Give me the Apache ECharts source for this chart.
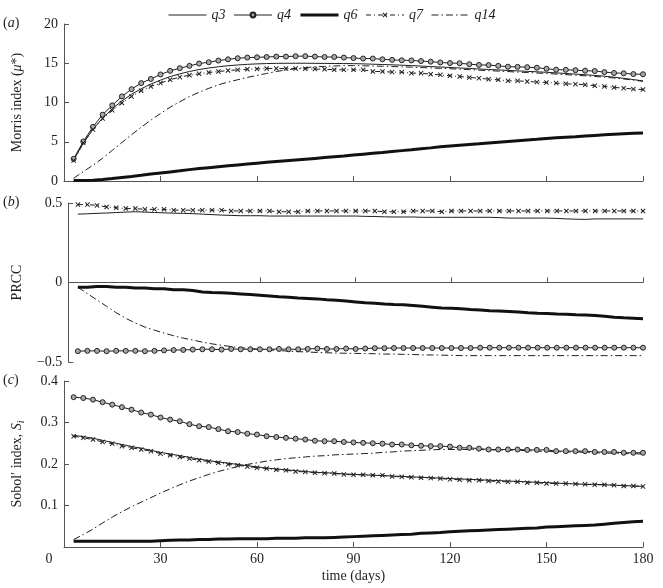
<!DOCTYPE html>
<html>
<head>
<meta charset="utf-8">
<script src="https://cdn.jsdelivr.net/npm/echarts@6/dist/echarts.min.js"></script>
<style>html,body{margin:0;padding:0;background:#fff}#c{width:663px;height:588px}</style>
</head>
<body>
<div id="c"></div>
<script>
// ---- data ----
const days = [3,6,9,12,15,18,21,24,27,30,33,36,39,42,45,48,51,54,57,60,63,66,69,72,75,78,81,84,87,90,
  93,96,99,102,105,108,111,114,117,120,123,126,129,132,135,138,141,144,147,150,153,156,159,162,165,168,171,174,177,180];
const xTicks = [0,30,60,90,120,150,180];
const seriesNames = ['q3','q4','q6','q7','q14'];

// (a) Morris index
const morrisQ3 = [2.7,4.8,6.6,8.0,9.2,10.2,11.05,11.75,12.35,12.85,13.3,13.65,13.95,14.2,14.4,14.55,14.68,14.78,14.86,14.92,
  14.96,14.99,15.0,15.0,15.0,14.99,14.98,14.97,14.96,14.95,14.92,14.88,14.84,14.8,14.75,14.7,14.64,14.58,14.52,14.46,
  14.4,14.34,14.27,14.21,14.15,14.09,14.03,13.97,13.91,13.85,13.77,13.7,13.62,13.54,13.45,13.35,13.22,13.08,12.92,12.75];
const morrisQ4 = [2.83,5.03,6.9,8.45,9.64,10.78,11.7,12.47,13.0,13.57,14.03,14.37,14.67,14.96,15.13,15.34,15.5,15.64,15.72,15.76,
  15.8,15.85,15.85,15.9,15.9,15.85,15.8,15.8,15.72,15.66,15.6,15.6,15.5,15.43,15.38,15.36,15.28,15.2,15.1,15.02,
  15.0,14.88,14.79,14.77,14.67,14.56,14.54,14.5,14.43,14.3,14.18,14.16,14.12,14.05,14.01,13.87,13.76,13.72,13.62,13.6];
const morrisQ6 = [0.05,0.05,0.1,0.2,0.32,0.45,0.58,0.72,0.88,1.02,1.16,1.3,1.45,1.58,1.7,1.82,1.94,2.05,2.16,2.27,
  2.38,2.48,2.58,2.68,2.78,2.88,2.98,3.08,3.18,3.3,3.42,3.53,3.64,3.76,3.87,3.98,4.1,4.22,4.35,4.46,
  4.56,4.65,4.74,4.84,4.94,5.04,5.14,5.23,5.32,5.42,5.5,5.58,5.64,5.72,5.8,5.88,5.95,6.02,6.07,6.1];
const morrisQ7 = [2.6,4.86,6.55,7.95,9.0,9.93,10.78,11.5,12.05,12.47,12.9,13.23,13.48,13.65,13.82,13.95,14.07,14.16,14.24,14.28,
  14.33,14.33,14.33,14.33,14.3,14.26,14.24,14.18,14.16,14.16,14.16,13.95,13.95,13.87,13.87,13.74,13.74,13.6,13.52,13.4,
  13.31,13.19,13.1,12.97,12.89,12.76,12.76,12.68,12.6,12.55,12.47,12.38,12.34,12.26,12.13,12.05,11.92,11.83,11.71,11.65];
const morrisQ14 = [0.35,1.2,2.0,2.9,3.9,4.9,5.9,6.85,7.75,8.6,9.4,10.1,10.75,11.3,11.8,12.25,12.6,12.9,13.2,13.45,
  13.7,13.95,14.15,14.3,14.45,14.55,14.6,14.65,14.7,14.7,14.68,14.65,14.62,14.58,14.54,14.5,14.45,14.4,14.35,14.3,
  14.24,14.18,14.12,14.06,14.0,13.94,13.88,13.82,13.76,13.7,13.62,13.55,13.47,13.4,13.32,13.22,13.12,13.0,12.85,12.7];

// (b) PRCC
const prccQ3 = [0.43,0.432,0.435,0.437,0.44,0.443,0.445,0.443,0.44,0.438,0.436,0.435,0.433,0.43,0.427,0.424,0.422,0.42,0.42,0.42,
  0.418,0.418,0.418,0.418,0.418,0.418,0.418,0.418,0.418,0.418,0.416,0.415,0.413,0.412,0.412,0.412,0.41,0.41,0.41,0.41,
  0.41,0.41,0.41,0.41,0.408,0.405,0.405,0.405,0.405,0.405,0.403,0.4,0.398,0.397,0.4,0.4,0.4,0.4,0.4,0.4];
const prccQ4 = [-0.432,-0.43,-0.43,-0.432,-0.43,-0.43,-0.43,-0.432,-0.43,-0.427,-0.425,-0.424,-0.422,-0.42,-0.42,-0.422,-0.418,-0.42,-0.42,-0.42,
  -0.42,-0.418,-0.42,-0.42,-0.418,-0.415,-0.418,-0.418,-0.415,-0.418,-0.415,-0.413,-0.413,-0.412,-0.412,-0.412,-0.412,-0.412,-0.412,-0.412,
  -0.412,-0.412,-0.41,-0.41,-0.41,-0.41,-0.41,-0.41,-0.41,-0.41,-0.41,-0.41,-0.41,-0.41,-0.41,-0.41,-0.41,-0.41,-0.41,-0.41];
const prccQ6 = [-0.03,-0.03,-0.025,-0.025,-0.03,-0.03,-0.035,-0.035,-0.04,-0.04,-0.045,-0.045,-0.05,-0.06,-0.063,-0.065,-0.068,-0.072,-0.076,-0.08,
  -0.085,-0.09,-0.093,-0.097,-0.1,-0.103,-0.108,-0.112,-0.117,-0.122,-0.127,-0.13,-0.135,-0.138,-0.14,-0.145,-0.15,-0.155,-0.16,-0.162,
  -0.165,-0.17,-0.173,-0.177,-0.18,-0.183,-0.186,-0.19,-0.193,-0.195,-0.198,-0.2,-0.203,-0.205,-0.208,-0.212,-0.218,-0.222,-0.225,-0.228];
const prccQ7 = [0.49,0.49,0.485,0.475,0.47,0.465,0.465,0.46,0.46,0.46,0.455,0.455,0.455,0.455,0.455,0.455,0.45,0.45,0.45,0.45,
  0.45,0.445,0.445,0.445,0.45,0.45,0.45,0.45,0.45,0.45,0.45,0.45,0.445,0.445,0.445,0.45,0.45,0.45,0.445,0.45,
  0.45,0.45,0.45,0.45,0.45,0.45,0.45,0.45,0.45,0.45,0.45,0.45,0.45,0.45,0.45,0.45,0.45,0.45,0.45,0.45];
const prccQ14 = [-0.03,-0.07,-0.11,-0.15,-0.19,-0.225,-0.255,-0.28,-0.3,-0.318,-0.335,-0.35,-0.362,-0.375,-0.386,-0.395,-0.403,-0.41,-0.416,-0.42,
  -0.424,-0.428,-0.432,-0.435,-0.437,-0.44,-0.442,-0.444,-0.445,-0.446,-0.447,-0.448,-0.45,-0.45,-0.452,-0.453,-0.455,-0.456,-0.457,-0.458,
  -0.46,-0.46,-0.46,-0.46,-0.46,-0.46,-0.46,-0.46,-0.46,-0.46,-0.46,-0.46,-0.46,-0.46,-0.46,-0.46,-0.46,-0.46,-0.46,-0.46];

// (c) Sobol' index
const sobolQ3 = [0.269,0.266,0.262,0.257,0.252,0.247,0.242,0.238,0.233,0.228,0.224,0.22,0.216,0.212,0.208,0.205,0.202,0.199,0.196,0.193,
  0.19,0.188,0.186,0.184,0.182,0.18,0.179,0.178,0.176,0.175,0.174,0.173,0.172,0.171,0.17,0.169,0.168,0.167,0.166,0.165,
  0.164,0.163,0.162,0.161,0.16,0.159,0.158,0.157,0.156,0.155,0.154,0.153,0.152,0.151,0.151,0.15,0.149,0.148,0.147,0.146];
const sobolQ4 = [0.361,0.359,0.355,0.349,0.343,0.337,0.331,0.324,0.319,0.312,0.307,0.303,0.296,0.291,0.289,0.284,0.279,0.277,0.273,0.271,
  0.267,0.265,0.263,0.261,0.259,0.256,0.255,0.255,0.253,0.252,0.251,0.25,0.249,0.247,0.247,0.245,0.244,0.243,0.243,0.242,
  0.239,0.239,0.237,0.235,0.235,0.235,0.235,0.234,0.234,0.234,0.231,0.231,0.231,0.231,0.229,0.229,0.229,0.227,0.227,0.227];
const sobolQ6 = [0.014,0.014,0.014,0.014,0.014,0.014,0.014,0.014,0.014,0.015,0.016,0.017,0.017,0.018,0.018,0.019,0.019,0.02,0.02,0.02,
  0.02,0.021,0.021,0.021,0.022,0.022,0.022,0.023,0.024,0.025,0.026,0.027,0.028,0.029,0.03,0.031,0.033,0.034,0.035,0.037,
  0.038,0.039,0.04,0.041,0.042,0.043,0.044,0.045,0.046,0.048,0.049,0.05,0.051,0.052,0.053,0.055,0.057,0.059,0.061,0.062];
const sobolQ7 = [0.267,0.263,0.259,0.253,0.249,0.243,0.239,0.235,0.231,0.225,0.221,0.217,0.213,0.209,0.206,0.203,0.199,0.197,0.194,0.191,
  0.189,0.186,0.185,0.182,0.181,0.179,0.178,0.177,0.175,0.174,0.174,0.173,0.173,0.17,0.169,0.168,0.167,0.166,0.165,0.163,
  0.162,0.161,0.161,0.159,0.158,0.157,0.157,0.155,0.155,0.153,0.153,0.153,0.152,0.151,0.15,0.15,0.149,0.147,0.147,0.146];
const sobolQ14 = [0.018,0.03,0.043,0.058,0.072,0.085,0.097,0.108,0.119,0.13,0.14,0.15,0.159,0.167,0.175,0.182,0.188,0.194,0.199,0.203,
  0.207,0.21,0.213,0.215,0.217,0.219,0.22,0.222,0.223,0.224,0.225,0.226,0.228,0.229,0.231,0.232,0.233,0.234,0.235,0.235,
  0.235,0.235,0.235,0.234,0.234,0.233,0.233,0.232,0.231,0.23,0.23,0.229,0.229,0.228,0.227,0.226,0.226,0.225,0.225,0.224];

const panelData = [
  [morrisQ3, morrisQ4, morrisQ6, morrisQ7, morrisQ14],
  [prccQ3, prccQ4, prccQ6, prccQ7, prccQ14],
  [sobolQ3, sobolQ4, sobolQ6, sobolQ7, sobolQ14]
];

// ---- styles ----
const FONT = 'Liberation Serif';
const INK = '#1e1e1e';
const AX = '#555';
const NONE = 'rgba(0,0,0,0)';
const XPATH = 'path://M0,1.4L1.4,0L5,3.6L8.6,0L10,1.4L6.4,5L10,8.6L8.6,10L5,6.4L1.4,10L0,8.6L3.6,5Z';
const styles = {
  q3: {symbol:'none', itemStyle:{color:NONE}, lineStyle:{width:1, color:INK}},
  q4: {symbol:'circle', symbolSize:5, itemStyle:{color:'#a8a8a8', borderColor:'#222', borderWidth:1}, lineStyle:{width:1, color:INK}},
  q6: {symbol:'none', itemStyle:{color:NONE}, lineStyle:{width:3, color:'#111'}},
  q7: {symbol:XPATH, symbolSize:5, itemStyle:{color:'#222'}, lineStyle:{width:1, color:INK, type:[5,3,1,3]}},
  q14:{symbol:'none', itemStyle:{color:NONE}, lineStyle:{width:1, color:INK, type:[7,3,1.5,3]}}
};

const grids = [
  {left:58, top:24, width:585, height:157},
  {left:58, top:203, width:585, height:159},
  {left:58, top:381, width:585, height:166}
];
const yCfg = [
  {min:0, max:20, interval:5},
  {min:-0.5, max:0.5, interval:0.5},
  {min:0, max:0.4, interval:0.1}
];
const yNames = ['Morris index ({it|\u03bc}*)', 'PRCC', 'Sobol\u2032 index, {it|S}{sub|i}'];

const labelStyle = {fontFamily:FONT, fontSize:14, color:INK};
const rich = {
  it:{fontFamily:FONT, fontSize:14, fontStyle:'italic', color:INK},
  sub:{fontFamily:FONT, fontSize:10, fontStyle:'italic', color:INK, verticalAlign:'bottom', padding:[6,0,0,0]},
  z:{fontFamily:FONT, fontSize:14, color:INK, padding:[0,30,0,0]}
};

const xAxes = grids.map((g, p) => ({
  type:'value', gridIndex:p, min:xTicks[0], max:xTicks[xTicks.length-1], interval:30,
  axisLine:{lineStyle:{color:AX, width:1}},
  axisTick:{inside:true, length:5, lineStyle:{color:AX}},
  splitLine:{show:false},
  axisLabel:{show:p===2, margin:5, ...labelStyle, rich,
    formatter: v => (v===0 ? '{z|0}' : String(v))},
  name: p===2 ? 'time (days)' : '',
  nameLocation:'middle', nameGap:22,
  nameTextStyle:{fontFamily:FONT, fontSize:14, color:INK}
}));
const yAxes = grids.map((g, p) => ({
  type:'value', gridIndex:p, ...yCfg[p],
  axisLine:{show:true, lineStyle:{color:AX, width:1}},
  axisTick:{show:true, inside:true, length:5, lineStyle:{color:AX}},
  splitLine:{show:false},
  axisLabel:{margin:6, ...labelStyle,
    formatter: v => (p===2 && v===0) ? '' : String(v).replace('-', '\u2212')},
  name: yNames[p], nameLocation:'middle', nameGap:38, nameRotate:90,
  nameTextStyle:{fontFamily:FONT, fontSize:14, color:INK, rich, lineHeight:18}
}));

const series = [];
panelData.forEach((arrs, p) => {
  arrs.forEach((arr, k) => {
    const nm = seriesNames[k];
    series.push(Object.assign({
      name:nm, type:'line', xAxisIndex:p, yAxisIndex:p,
      showAllSymbol:true, animation:false, silent:true,
      z: nm==='q6' ? 3 : 2,
      data: days.map((d, i) => [d, arr[i]])
    }, JSON.parse(JSON.stringify(styles[nm])), {symbol: styles[nm].symbol}));
  });
});

const panelLetters = ['a','b','c'];
const titleTops = [16, 195, 373];

const option = {
  animation:false,
  backgroundColor:'#fff',
  color:[INK, INK, INK, INK, INK],
  title: panelLetters.map((l, i) => ({
    text:'({it|' + l + '})', left:3, top:titleTops[i], padding:0,
    textStyle:{fontFamily:FONT, fontSize:14, fontWeight:'normal', color:INK, rich:{it:{fontFamily:FONT, fontSize:14, fontStyle:'italic', color:INK}}}
  })),
  legend:{
    data:seriesNames, top:3, left:163, itemWidth:38, itemHeight:6, itemGap:8,
    lineStyle:{width:'inherit'},
    textStyle:{fontFamily:FONT, fontSize:14, fontStyle:'italic', color:INK}
  },
  grid:grids,
  xAxis:xAxes,
  yAxis:yAxes,
  series
};

const chart = echarts.init(document.getElementById('c'), null, {renderer:'canvas'});
chart.setOption(option);
</script>
</body>
</html>
